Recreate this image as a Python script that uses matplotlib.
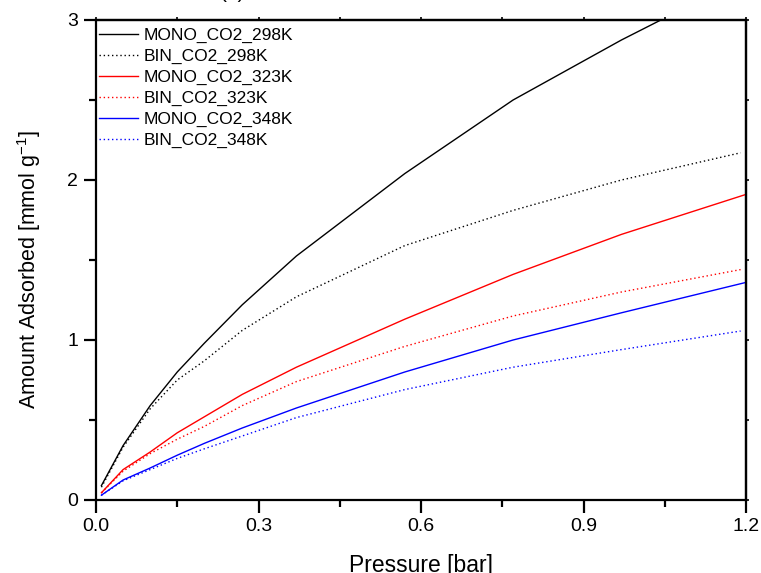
#!/usr/bin/env python
# coding: utf-8

# CO2 isotherms: single component (MONO) vs binary (BIN) at three temperatures

import numpy             as np
import matplotlib        as mpl
mpl.use("Agg")
import matplotlib.pyplot as plt
from matplotlib.ticker import MultipleLocator, FormatStrFormatter


# Pressure points [bar]
p_mono = [0.01, 0.05, 0.10, 0.15, 0.20, 0.27, 0.37, 0.57, 0.77, 0.97, 1.20]
p_bin  = [0.01, 0.05, 0.10, 0.15, 0.20, 0.27, 0.37, 0.57, 0.77, 0.97, 1.19]

# Amount adsorbed [mmol/g]
mono_298 = [0.09, 0.34, 0.59, 0.80, 0.98, 1.22, 1.525, 2.04, 2.50, 2.875, 3.27]
bin_298  = [0.08, 0.33, 0.57, 0.75, 0.87, 1.06, 1.27, 1.59, 1.81, 2.00, 2.17]
mono_323 = [0.045, 0.19, 0.30, 0.42, 0.52, 0.66, 0.83, 1.13, 1.41, 1.66, 1.91]
bin_323  = [0.045, 0.18, 0.29, 0.38, 0.46, 0.59, 0.74, 0.96, 1.15, 1.30, 1.44]
mono_348 = [0.03, 0.125, 0.20, 0.28, 0.354, 0.45, 0.575, 0.80, 1.00, 1.17, 1.36]
bin_348  = [0.03, 0.12, 0.19, 0.26, 0.32, 0.40, 0.515, 0.69, 0.83, 0.94, 1.056]


plt.rcParams['font.family'] = ['Liberation Sans', 'DejaVu Sans']
plt.rcParams['mathtext.fontset'] = 'custom'
plt.rcParams['mathtext.rm'] = 'Liberation Sans'

fig = plt.figure(figsize=(7.61, 5.73), dpi=100)
ax = fig.add_axes([96/761, 1 - 500/573, 650/761, 480/573])

dot = (0, (1, 2))
ax.plot(p_mono, mono_298, color="black", lw=1.0, label="MONO_CO2_298K")
ax.plot(p_bin,  bin_298,  color="black", lw=1.0, ls=dot, label="BIN_CO2_298K")
ax.plot(p_mono, mono_323, color="red",   lw=1.0, label="MONO_CO2_323K")
ax.plot(p_bin,  bin_323,  color="red",   lw=1.0, ls=dot, label="BIN_CO2_323K")
ax.plot(p_mono, mono_348, color="blue",  lw=1.0, label="MONO_CO2_348K")
ax.plot(p_bin,  bin_348,  color="blue",  lw=1.0, ls=dot, label="BIN_CO2_348K")

ax.set_xlim(0, 1.2)
ax.set_ylim(0, 3)
ax.xaxis.set_major_locator(MultipleLocator(0.3))
ax.xaxis.set_minor_locator(MultipleLocator(0.15))
ax.yaxis.set_major_locator(MultipleLocator(1))
ax.yaxis.set_minor_locator(MultipleLocator(0.5))
ax.xaxis.set_major_formatter(FormatStrFormatter("%.1f"))
ax.yaxis.set_major_formatter(FormatStrFormatter("%d"))

for s in ax.spines.values():
    s.set_linewidth(1.6)

ax.tick_params(which="major", direction="out", length=9, width=1.6,
               labelsize=14, pad=4)
ax.tick_params(which="minor", direction="out", length=5, width=1.6)

# tiny ticks on the top and right frame
top = ax.secondary_xaxis("top")
top.xaxis.set_major_locator(MultipleLocator(0.3))
top.xaxis.set_minor_locator(MultipleLocator(0.15))
top.tick_params(which="both", length=2, width=1.2, labeltop=False)
right = ax.secondary_yaxis("right")
right.yaxis.set_major_locator(MultipleLocator(1))
right.yaxis.set_minor_locator(MultipleLocator(0.5))
right.tick_params(which="both", length=2, width=1.2, labelright=False)
top.spines["top"].set_linewidth(1.6)
right.spines["right"].set_linewidth(1.6)

ax.set_xlabel("Pressure [bar]", fontsize=16.5)
ax.xaxis.set_label_coords(0.5, -0.112)
ax.set_ylabel("Amount Adsorbed [mmol g$^{-1}$]", fontsize=15.5)
ax.yaxis.set_label_coords(-0.082, 0.48)

ax.legend(loc="upper left", frameon=False, fontsize=12.5, handlelength=2.2,
          handletextpad=0.35, labelspacing=0.33, borderaxespad=0.0,
          borderpad=0.45, bbox_to_anchor=(-0.0067, 1.0))

fig.text(233/761, 1 - 2/573, "(a)", fontsize=15, ha="center", va="bottom")

fig.savefig("out.png", dpi=100)
